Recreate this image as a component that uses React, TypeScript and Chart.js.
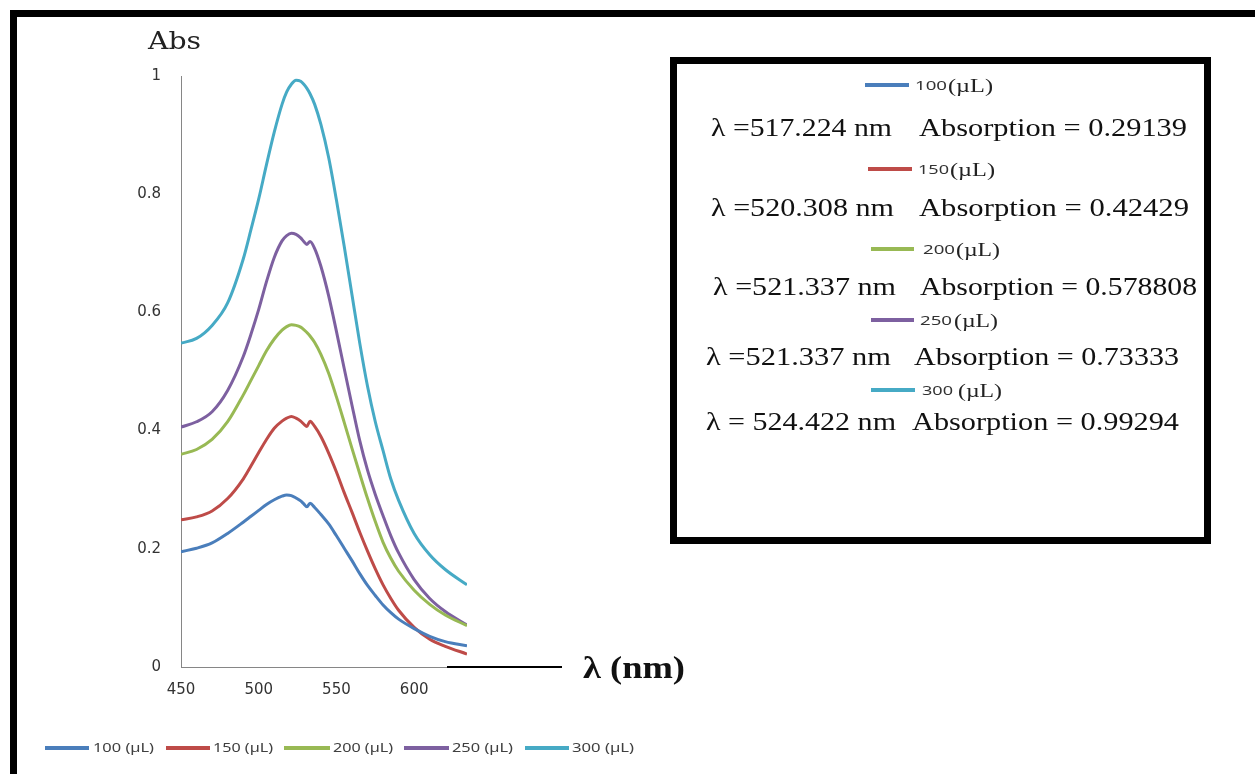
import React, { useEffect, useRef } from "react";
import { Chart, registerables } from "chart.js";

Chart.register(...registerables);

// ---------- data ----------
const wavelengths = [450, 460, 470, 480, 490, 495, 500, 505, 510, 515, 518, 521, 524, 527, 529, 531, 533, 536, 540, 545, 550, 555, 560, 565, 570, 575, 580, 585, 590, 600, 610, 620, 634];

const abs100 = [0.195, 0.201, 0.210, 0.226, 0.245, 0.255, 0.265, 0.275, 0.283, 0.289, 0.291, 0.290, 0.286, 0.281, 0.276, 0.271, 0.277, 0.270, 0.258, 0.242, 0.222, 0.201, 0.180, 0.158, 0.138, 0.121, 0.105, 0.092, 0.081, 0.065, 0.052, 0.043, 0.036];
const abs150 = [0.249, 0.254, 0.264, 0.285, 0.318, 0.340, 0.363, 0.385, 0.404, 0.416, 0.421, 0.424, 0.421, 0.416, 0.411, 0.407, 0.416, 0.407, 0.390, 0.362, 0.330, 0.295, 0.262, 0.228, 0.196, 0.166, 0.139, 0.116, 0.096, 0.067, 0.047, 0.035, 0.022];
const abs200 = [0.360, 0.368, 0.385, 0.415, 0.460, 0.485, 0.510, 0.535, 0.555, 0.570, 0.576, 0.579, 0.578, 0.575, 0.571, 0.566, 0.560, 0.549, 0.529, 0.497, 0.457, 0.414, 0.370, 0.327, 0.285, 0.246, 0.211, 0.184, 0.162, 0.130, 0.106, 0.088, 0.070];
const abs250 = [0.406, 0.415, 0.432, 0.468, 0.525, 0.563, 0.605, 0.652, 0.693, 0.721, 0.730, 0.734, 0.732, 0.726, 0.720, 0.715, 0.720, 0.708, 0.678, 0.628, 0.568, 0.505, 0.443, 0.383, 0.333, 0.292, 0.256, 0.222, 0.193, 0.148, 0.116, 0.094, 0.071];
const abs300 = [0.548, 0.556, 0.578, 0.616, 0.690, 0.740, 0.792, 0.850, 0.905, 0.952, 0.973, 0.986, 0.993, 0.991, 0.986, 0.979, 0.970, 0.952, 0.918, 0.862, 0.790, 0.712, 0.630, 0.548, 0.475, 0.415, 0.366, 0.318, 0.282, 0.226, 0.190, 0.165, 0.139];

const seriesNames = ["100 (µL)", "150 (µL)", "200 (µL)", "250 (µL)", "300 (µL)"];
const seriesValues = [abs100, abs150, abs200, abs250, abs300];
const seriesColors = ["#4A7EBB", "#BE4B48", "#98B954", "#7D60A0", "#46AAC5"];

const xTicks = [450, 500, 550, 600];
const yTicks = [0, 0.2, 0.4, 0.6, 0.8, 1];
const yTickLabels = ["0", "0.2", "0.4", "0.6", "0.8", "1"];

const peakVolumes = ["100", "150", "200", "250", "300"];
const peakLambda = ["λ =517.224 nm", "λ =520.308 nm", "λ =521.337 nm", "λ =521.337 nm", "λ = 524.422 nm"];
const peakAbs = ["Absorption = 0.29139", "Absorption = 0.42429", "Absorption = 0.578808", "Absorption = 0.73333", "Absorption = 0.99294"];

// ---------- text helper ----------
let measureCtx: CanvasRenderingContext2D | null = null;
function measure(text: string, family: string, size: number, weight: string) {
  if (!measureCtx) measureCtx = document.createElement("canvas").getContext("2d");
  measureCtx!.font = `${weight} ${size}px ${family}`;
  return measureCtx!.measureText(text).width;
}

const SERIF = '"Liberation Serif", "Times New Roman", serif';
const SANS = '"Noto Sans", "DejaVu Sans", sans-serif';

function FitText(props: { x: number; y: number; w: number; text: string; family: string; size: number; weight?: string; color?: string }) {
  const { x, y, w, text, family, size, color } = props;
  const weight = props.weight || "normal";
  const m = measure(text, family, size, weight);
  const s = m > 0 ? w / m : 1;
  return (
    <div
      style={{
        position: "absolute",
        left: x,
        top: y,
        fontFamily: family,
        fontSize: size,
        fontWeight: weight as any,
        color: color || "#000",
        whiteSpace: "pre",
        lineHeight: 1,
        transform: `translateY(-50%) scaleX(${s})`,
        transformOrigin: "left center",
      }}
    >
      {text}
    </div>
  );
}

function Seg(props: { x1: number; x2: number; y: number; color: string; h?: number }) {
  const h = props.h || 3;
  return (
    <div
      style={{
        position: "absolute",
        left: props.x1,
        top: props.y - h / 2,
        width: props.x2 - props.x1,
        height: h,
        background: props.color,
      }}
    />
  );
}

// layout for annotation boxes (px)
const boxLegendRows = [
  { ly: 85, lx1: 865, lx2: 909, nx: 915, nw: 32, ux: 948, uw: 45 },
  { ly: 169, lx1: 868, lx2: 912, nx: 918, nw: 31, ux: 950, uw: 45 },
  { ly: 249, lx1: 871, lx2: 914, nx: 923, nw: 32, ux: 956, uw: 44 },
  { ly: 320, lx1: 871, lx2: 914, nx: 920, nw: 32, ux: 954, uw: 44 },
  { ly: 390, lx1: 871, lx2: 915, nx: 922, nw: 31, ux: 958, uw: 44 },
];
const boxTextRows = [
  { y: 128, ax: 711, aw: 181, bx: 919, bw: 268 },
  { y: 208, ax: 711, aw: 183, bx: 919, bw: 270 },
  { y: 287, ax: 713, aw: 183, bx: 920, bw: 277 },
  { y: 357, ax: 706, aw: 185, bx: 914, bw: 265 },
  { y: 422, ax: 706, aw: 190, bx: 912, bw: 267 },
];
const bottomLegend = [
  { lx1: 45, lx2: 89, tx: 93, tw: 61 },
  { lx1: 166, lx2: 210, tx: 213, tw: 60 },
  { lx1: 284, lx2: 330, tx: 333, tw: 60 },
  { lx1: 404, lx2: 449, tx: 452, tw: 61 },
  { lx1: 525, lx2: 569, tx: 572, tw: 62 },
];

export default function App() {
  const canvasRef = useRef<HTMLCanvasElement | null>(null);

  useEffect(() => {
    const canvas = canvasRef.current;
    if (!canvas) return;
    const chart = new Chart(canvas, {
      type: "line",
      data: {
        datasets: seriesValues.map((vals, i) => ({
          label: seriesNames[i],
          data: wavelengths.map((x, j) => ({ x, y: vals[j] })),
          borderColor: seriesColors[i],
          backgroundColor: seriesColors[i],
          borderWidth: 3,
          pointRadius: 0,
          cubicInterpolationMode: "monotone" as const,
          fill: false,
        })),
      },
      options: {
        responsive: false,
        animation: false,
        events: [],
        layout: { padding: { left: 100, right: 788, top: 76, bottom: 77 } },
        plugins: { legend: { display: false }, tooltip: { enabled: false }, title: { display: false } },
        scales: {
          x: {
            type: "linear",
            min: 450,
            max: 634,
            grid: { display: false, drawTicks: false },
            border: { display: true, color: "#868686", width: 1 },
            ticks: { padding: 14, color: "#333", font: { family: "DejaVu Sans", size: 15 }, maxRotation: 0 },
            afterBuildTicks: (s: any) => {
              s.ticks = xTicks.map((v) => ({ value: v }));
            },
            afterFit: (s: any) => {
              s.height = 30;
            },
          },
          y: {
            type: "linear",
            min: 0,
            max: 1,
            grid: { display: false, drawTicks: false },
            border: { display: true, color: "#868686", width: 1 },
            ticks: {
              padding: 20,
              color: "#333",
              font: { family: "DejaVu Sans", size: 15 },
              callback: (_v: any, i: number) => yTickLabels[i],
            },
            afterBuildTicks: (s: any) => {
              s.ticks = yTicks.map((v) => ({ value: v }));
            },
            afterFit: (s: any) => {
              s.width = 81;
            },
          },
        },
      },
    });
    return () => chart.destroy();
  }, []);

  return (
    <div style={{ position: "absolute", left: 0, top: 0, width: 1255, height: 774, overflow: "hidden", background: "#fff" }}>
      {/* outer frame */}
      <div
        style={{
          position: "absolute",
          left: 10,
          top: 10,
          width: 1400,
          height: 900,
          borderLeft: "7px solid #000",
          borderTop: "7px solid #000",
          boxSizing: "border-box",
        }}
      />
      <canvas ref={canvasRef} width={1255} height={774} style={{ position: "absolute", left: 0, top: 0 }} />

      {/* axis titles */}
      <FitText x={148} y={40} w={53} text="Abs" family='"DejaVu Serif", serif' size={25} color="#222" />
      <Seg x1={447} x2={562} y={667} color="#000" h={2} />
      <FitText x={583} y={667} w={102} text="λ (nm)" family={SERIF} size={31} weight="bold" color="#111" />

      {/* right info box */}
      <div
        style={{
          position: "absolute",
          left: 670,
          top: 57,
          width: 541,
          height: 487,
          border: "7px solid #000",
          boxSizing: "border-box",
        }}
      />
      {boxLegendRows.map((r, i) => (
        <React.Fragment key={"bl" + i}>
          <Seg x1={r.lx1} x2={r.lx2} y={r.ly} color={seriesColors[i]} h={4} />
          <FitText x={r.nx} y={r.ly} w={r.nw} text={peakVolumes[i]} family={SANS} size={13} color="#333" />
          <FitText x={r.ux} y={r.ly} w={r.uw} text="(µL)" family={SERIF} size={19} color="#222" />
        </React.Fragment>
      ))}
      {boxTextRows.map((r, i) => (
        <React.Fragment key={"bt" + i}>
          <FitText x={r.ax} y={r.y} w={r.aw} text={peakLambda[i]} family={SERIF} size={26} color="#111" />
          <FitText x={r.bx} y={r.y} w={r.bw} text={peakAbs[i]} family={SERIF} size={26} color="#111" />
        </React.Fragment>
      ))}

      {/* bottom legend */}
      {bottomLegend.map((r, i) => (
        <React.Fragment key={"lg" + i}>
          <Seg x1={r.lx1} x2={r.lx2} y={748} color={seriesColors[i]} h={4} />
          <FitText x={r.tx} y={748} w={r.tw} text={seriesNames[i]} family={SANS} size={12} color="#404040" />
        </React.Fragment>
      ))}
    </div>
  );
}
